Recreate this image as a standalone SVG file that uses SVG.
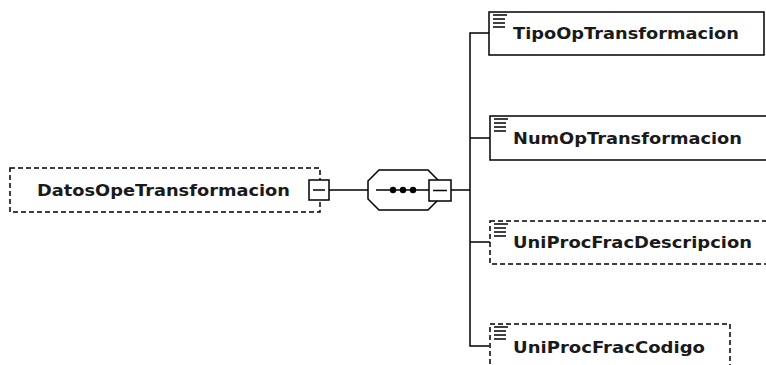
<svg xmlns="http://www.w3.org/2000/svg" width="766" height="365" viewBox="0 0 766 365">
<defs>
<style>
.box{fill:#fff;stroke:#000;stroke-width:1.5}
.opt{stroke-dasharray:5 3}
.ln{stroke:#000;stroke-width:1.5;fill:none}
.t{font-family:"DejaVu Sans",Verdana,sans-serif;font-weight:bold;font-size:15px;fill:#1a1a1a}
.ic{stroke:#000;stroke-width:1.5}
</style>
<g id="icon">
<line class="ic" x1="0" y1="0" x2="14" y2="0"/>
<line class="ic" x1="0" y1="4" x2="12" y2="4"/>
<line class="ic" x1="0" y1="8" x2="12" y2="8"/>
<line class="ic" x1="0" y1="12" x2="12" y2="12"/>
</g>
</defs>
<rect width="766" height="365" fill="#fff"/>
<g id="connectors">
<line class="ln" x1="329" y1="190" x2="368" y2="190"/>
<line class="ln" x1="451" y1="190" x2="470" y2="190"/>
<polyline class="ln" points="489,33 470,33 470,346 489,346"/>
<line class="ln" x1="470" y1="138" x2="490" y2="138"/>
<line class="ln" x1="470" y1="242" x2="490" y2="242"/>
</g>
<g id="DatosOpeTransformacion">
<rect class="box opt" x="10" y="168" width="310" height="44"/>
<text class="t" x="37" y="196" textLength="253" lengthAdjust="spacingAndGlyphs">DatosOpeTransformacion</text>
<rect class="box" x="309" y="180" width="20" height="20"/>
<line class="ln" x1="313" y1="190" x2="325" y2="190"/>
</g>
<g id="sequence">
<polygon class="box" points="368,181 379,170 428,170 438,180 438,200 428,210 379,210 368,199"/>
<line class="ln" x1="376" y1="190" x2="429" y2="190"/>
<circle cx="393" cy="190" r="3.2"/>
<circle cx="403" cy="190" r="3.2"/>
<circle cx="413" cy="190" r="3.2"/>
<rect class="box" x="429" y="180" width="22" height="21"/>
<line class="ln" x1="433" y1="190.5" x2="447" y2="190.5"/>
</g>
<g id="TipoOpTransformacion">
<rect class="box" x="489" y="12" width="275" height="43"/>
<use href="#icon" x="493" y="15"/>
<text class="t" x="513" y="39" textLength="226" lengthAdjust="spacingAndGlyphs">TipoOpTransformacion</text>
</g>
<g id="NumOpTransformacion">
<rect class="box" x="490" y="116" width="280" height="44"/>
<use href="#icon" x="494" y="119"/>
<text class="t" x="513" y="144" textLength="229" lengthAdjust="spacingAndGlyphs">NumOpTransformacion</text>
</g>
<g id="UniProcFracDescripcion">
<rect class="box opt" x="490" y="221" width="290" height="43"/>
<use href="#icon" x="494" y="224"/>
<text class="t" x="513" y="248" textLength="239" lengthAdjust="spacingAndGlyphs">UniProcFracDescripcion</text>
</g>
<g id="UniProcFracCodigo">
<rect class="box opt" x="490" y="324" width="240" height="60"/>
<use href="#icon" x="494" y="327"/>
<text class="t" x="513" y="353" textLength="192" lengthAdjust="spacingAndGlyphs">UniProcFracCodigo</text>
</g>
</svg>
